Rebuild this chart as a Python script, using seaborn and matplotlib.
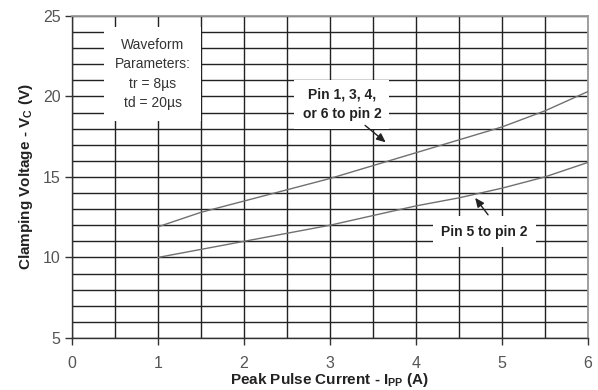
import numpy as np
import pandas as pd
import matplotlib
matplotlib.use("Agg")
import matplotlib.pyplot as plt
from matplotlib.ticker import MultipleLocator
import seaborn as sns

# Clamping voltage vs peak pulse current (8/20 us waveform)
current_a = [1.0, 1.5, 2.0, 2.5, 3.0, 3.5, 4.0, 4.5, 5.0, 5.5, 6.0]
vc_pins_1346 = [11.9, 12.8, 13.5, 14.2, 14.9, 15.7, 16.5, 17.3, 18.1, 19.1, 20.3]
vc_pin_5 = [10.0, 10.5, 11.0, 11.5, 12.0, 12.6, 13.2, 13.7, 14.3, 15.0, 15.9]
series_names = ["Pin 1, 3, 4,\nor 6 to pin 2", "Pin 5 to pin 2"]
x_ticks = [0, 1, 2, 3, 4, 5, 6]
y_ticks = [5, 10, 15, 20, 25]

df = pd.DataFrame({
    "Ipp": current_a * 2,
    "Vc": vc_pins_1346 + vc_pin_5,
    "series": [series_names[0]] * len(current_a) + [series_names[1]] * len(current_a),
})

sns.set_theme(style="white")
plt.rcParams["font.family"] = ["Liberation Sans", "DejaVu Sans"]

fig = plt.figure(figsize=(5.98, 3.90), dpi=100)
ax = fig.add_axes([0.120, 0.1333, 0.863, 0.826])

sns.lineplot(data=df, x="Ipp", y="Vc", hue="series",
             palette=["#707070", "#707070"], linewidth=1.0,
             legend=False, ax=ax, zorder=3)

ax.set_xlim(0, 6)
ax.set_ylim(5, 25)
ax.set_xticks(x_ticks)
ax.set_yticks(y_ticks)
ax.xaxis.set_minor_locator(MultipleLocator(0.5))
ax.yaxis.set_minor_locator(MultipleLocator(1))
ax.set_axisbelow(True)
ax.grid(which="both", color="#222222", linewidth=1.0)

ax.tick_params(axis="both", which="major", direction="out", length=5,
               width=1, color="#333333", labelsize=11.5, labelcolor="#555555",
               bottom=True, left=True)
ax.tick_params(axis="x", which="major", pad=8)
ax.tick_params(axis="y", which="major", pad=3)
ax.tick_params(axis="both", which="minor", length=0)

for side in ["left", "bottom"]:
    ax.spines[side].set_color("#333333")
    ax.spines[side].set_linewidth(1.0)
for side in ["top", "right"]:
    ax.spines[side].set_color("#9a9a9a")
    ax.spines[side].set_linewidth(1.3)

ax.set_xlabel(r"Peak Pulse Current - I$_{\mathregular{PP}}$ (A)",
              fontsize=11, fontweight="bold", color="#222222", labelpad=0)
ax.set_ylabel(r"Clamping Voltage - V$_{\mathregular{C}}$ (V)",
              fontsize=11, fontweight="bold", color="#222222", labelpad=6)

# Test waveform note
ax.text(0.94, 21.4, "Waveform\nParameters:\ntr = 8µs\ntd = 20µs",
        ha="center", va="center", fontsize=10, color="#333333",
        linespacing=1.5, zorder=4,
        bbox=dict(boxstyle="square,pad=0.75", facecolor="white", edgecolor="none"))

# Curve labels
ax.text(3.14, 19.5, series_names[0], ha="center", va="center",
        fontsize=10, fontweight="bold", color="#222222", linespacing=1.45, zorder=4,
        bbox=dict(boxstyle="square,pad=0.6", facecolor="white", edgecolor="none"))
ax.text(4.80, 11.6, series_names[1], ha="center", va="center",
        fontsize=10, fontweight="bold", color="#222222", zorder=4,
        bbox=dict(boxstyle="square,pad=0.6", facecolor="white", edgecolor="none"))

# Pointer arrows from labels to their curves
arrow_style = dict(arrowstyle="-|>,head_length=0.45,head_width=0.2",
                   color="#222222", lw=1.0, shrinkA=0, shrinkB=0)
ax.annotate("", xy=(3.65, 17.15), xytext=(3.41, 18.2), arrowprops=arrow_style, zorder=5)
ax.annotate("", xy=(4.69, 13.7), xytext=(4.84, 12.65), arrowprops=arrow_style, zorder=5)

fig.savefig("out.png", dpi=100, facecolor="white")
